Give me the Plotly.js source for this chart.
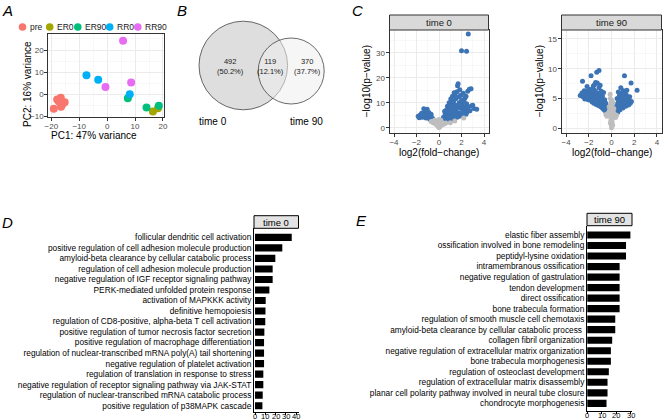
<!DOCTYPE html>
<html><head><meta charset="utf-8">
<script src="https://cdn.plot.ly/plotly-3.0.1.min.js"></script>
<style>html,body{margin:0;padding:0;background:#fff}#chart{width:668px;height:420px}</style>
</head><body><div id="chart"></div>
<script>
// ---------- Panel A: PCA ----------
const pcaGroups = ['pre', 'ER0', 'ER90', 'RR0', 'RR90'];
const pcaColors = ['#F8766D', '#A3A500', '#00BF7D', '#00B0F6', '#E76BF3'];
const prePC1 = [-19.1, -17.9, -16.6, -16.1, -15.2, -16.5, -17.3];
const prePC2 = [-6.5, -2.3, -1.6, -4.6, -3.6, -5.6, -3.2];
const er0PC1 = [16.4, 18.2];
const er0PC2 = [-7.7, -6.3];
const er90PC1 = [7.4, 14.1, 18.5];
const er90PC2 = [-1.8, -5.9, -5.2];
const rr0PC1 = [-7.4, -3.2, 8.1];
const rr0PC2 = [8.6, 6.6, 0.0];
const rr90PC1 = [5.7, -0.6, 8.6];
const rr90PC2 = [24.2, 3.3, 5.3];
const pcaX = [prePC1, er0PC1, er90PC1, rr0PC1, rr90PC1];
const pcaY = [prePC2, er0PC2, er90PC2, rr0PC2, rr90PC2];

// ---------- Panel B: Venn ----------
const vennSets = ['time 0', 'time 90'];
const vennCounts = [492, 119, 370]; // only time0, both, only time90

// ---------- Panel C: volcano ----------
const t0Sig = [
 [-1.85,4.6],[-1.7,5.0],[-1.6,4.4],[-1.5,5.3],[-1.45,4.2],[-1.35,7.6],[-1.3,5.6],[-1.2,4.9],[-1.15,3.9],[-1.05,7.4],
 [-1.0,5.1],[-0.95,4.3],[-0.9,6.1],[-0.85,3.6],[-0.8,5.0],[-0.75,3.2],[-0.7,4.4],[-0.65,2.9],[-0.6,3.8],[-0.55,2.6],
 [-0.5,3.3],[-0.45,2.3],[-0.4,2.8],[-1.55,5.8],[-1.25,6.3],[-1.75,4.0],[-1.1,5.6],[-0.35,2.0],[-1.4,4.8],[-0.7,5.4],
 [0.3,2.0],[0.35,3.0],[0.4,4.2],[0.45,2.5],[0.5,3.5],[0.55,5.5],[0.6,2.8],[0.6,4.6],[0.65,7.0],[0.7,3.3],
 [0.7,6.0],[0.75,8.6],[0.8,4.0],[0.8,5.4],[0.85,7.6],[0.9,3.2],[0.9,10.0],[0.95,6.3],[1.0,4.5],[1.0,8.4],
 [1.05,11.5],[1.1,3.8],[1.1,6.9],[1.15,9.5],[1.2,5.2],[1.2,12.6],[1.25,8.0],[1.3,4.3],[1.3,10.6],[1.35,6.2],
 [1.4,13.2],[1.4,3.9],[1.45,9.0],[1.5,7.3],[1.5,11.6],[1.55,5.0],[1.6,14.4],[1.6,8.5],[1.65,16.8],[1.7,17.6],
 [1.7,6.0],[1.75,12.4],[1.8,10.0],[1.8,4.6],[1.85,15.2],[1.9,7.8],[1.95,13.0],[2.0,5.4],[2.0,11.0],[2.05,9.2],
 [2.1,6.6],[2.15,13.8],[2.2,8.2],[2.25,5.8],[2.3,11.8],[2.35,7.2],[2.45,9.6],[2.5,6.3],[2.55,14.6],[2.6,8.4],
 [2.7,15.4],[2.75,6.8],[2.85,15.6],[2.9,8.8],[3.0,9.0],[3.1,7.7],[3.35,7.4],[2.4,12.6],[2.2,10.6],[1.0,2.8],
 [1.25,3.4],[1.6,4.2],[2.05,4.9],[2.4,5.4],[0.5,6.6],[0.95,9.2],[1.35,14.0],[1.75,9.2],[2.0,30.8],[2.45,30.6],[2.6,37.5]
];
const t0NS = [
 [0,0.1],[0.05,0.3],[-0.05,0.4],[0.1,0.6],[-0.1,0.7],[0.15,1.0],[-0.15,1.1],[0.2,1.3],[-0.2,1.4],[0.25,1.6],
 [-0.25,1.8],[0.3,1.2],[-0.3,1.5],[0.1,2.0],[-0.1,2.3],[0.2,2.6],[-0.2,2.8],[0.0,1.5],[0.05,2.9],[-0.35,2.4],
 [-0.45,1.9],[-0.5,2.1],[0.35,1.7],[0.4,1.5],[-0.6,2.3],[0.0,3.3],[0.5,1.6],[-0.7,2.5],[0.6,1.9],[1.0,2.0],
 [-0.4,3.0],[0.15,3.1],[2.2,3.9],[1.4,2.7]
];
const t90Sig = [
 [-2.75,5.5],[-2.6,5.9],[-2.55,7.9],[-2.5,5.3],[-2.4,6.3],[-2.3,5.7],[-2.25,5.1],[-2.2,6.2],[-2.1,5.5],[-2.05,4.8],
 [-2.0,6.0],[-1.95,5.2],[-1.9,6.5],[-1.85,4.7],[-1.8,8.8],[-1.8,5.6],[-1.75,6.2],[-1.7,4.4],[-1.65,5.0],[-1.6,7.1],
 [-1.6,5.8],[-1.55,4.2],[-1.5,6.4],[-1.45,4.9],[-1.4,7.7],[-1.4,5.5],[-1.35,4.0],[-1.3,9.4],[-1.3,6.0],[-1.25,7.6],
 [-1.2,4.6],[-1.2,5.2],[-1.15,3.8],[-1.1,9.7],[-1.1,6.8],[-1.05,5.6],[-1.0,4.3],[-1.0,7.2],[-0.95,3.6],[-0.9,5.0],
 [-0.9,6.2],[-0.85,4.0],[-0.8,3.4],[-0.8,5.4],[-0.75,4.6],[-0.7,3.2],[-0.7,6.0],[-0.65,3.9],[-0.6,3.0],[-0.6,4.8],
 [-0.55,3.5],[-0.5,2.8],[-0.5,4.2],[-0.45,3.1],[-0.4,2.6],[-0.35,3.6],[-0.3,2.4],[-1.5,7.3],[-2.15,7.0],[-2.35,4.9],[-1.7,6.6],
 [0.3,2.5],[0.35,3.4],[0.4,2.9],[0.45,4.0],[0.5,3.2],[0.5,5.0],[0.55,2.7],[0.6,4.4],[0.65,3.6],[0.7,5.5],
 [0.75,3.1],[0.8,4.8],[0.82,6.8],[0.85,3.8],[0.9,5.9],[0.95,4.3],[1.0,3.4],[1.0,5.2],[1.05,6.3],[1.1,4.0],
 [1.14,8.8],[1.2,4.8],[1.25,3.7],[1.3,5.6],[1.35,6.4],[1.4,4.3],[1.45,5.0],[1.5,3.9],[1.55,4.6],[1.6,5.3],
 [1.65,4.2],[1.72,7.6],[1.75,4.5],[2.25,6.4],[0.6,6.1],[1.2,6.0]
];
const t90NS = [
 [0,0.1],[0.02,0.4],[-0.03,0.7],[0.05,1.0],[-0.05,1.3],[0.08,1.6],[-0.08,1.9],[0.1,2.2],[-0.1,2.5],[0.15,2.8],
 [-0.15,3.1],[0.2,3.3],[-0.2,3.6],[0.25,2.4],[-0.25,2.7],[0.3,2.0],[-0.3,2.2],[0.35,1.8],[-0.4,2.0],[0.0,3.9],
 [-0.05,4.3],[0.05,4.6],[-0.1,5.0],[-0.12,5.7],[0.12,4.2],[-0.02,3.0],[0.0,2.0],[0.45,2.2],[-0.5,2.3],[0.1,0.5],[-0.1,0.9]
];

// ---------- Panel D / E: GO enrichment ----------
const goTerms0 = [
 'follicular dendritic cell activation',
 'positive regulation of cell adhesion molecule production',
 'amyloid-beta clearance by cellular catabolic process',
 'regulation of cell adhesion molecule production',
 'negative regulation of IGF receptor signaling pathway',
 'PERK-mediated unfolded protein response',
 'activation of MAPKKK activity',
 'definitive hemopoiesis',
 'regulation of CD8-positive, alpha-beta T cell activation',
 'positive regulation of tumor necrosis factor secretion',
 'positive regulation of macrophage differentiation',
 'regulation of nuclear-transcribed mRNA poly(A) tail shortening',
 'negative regulation of platelet activation',
 'regulation of translation in response to stress',
 'negative regulation of receptor signaling pathway via JAK-STAT',
 'regulation of nuclear-transcribed mRNA catabolic process',
 'positive regulation of p38MAPK cascade'
];
const goValues0 = [35.8, 26.6, 19.8, 17.2, 17.2, 14.0, 10.4, 10.2, 10.0, 9.1, 8.8, 8.8, 8.8, 8.1, 8.1, 7.5, 7.2];
const goTicks0 = [0, 10, 20, 30, 40];
const goTerms90 = [
 'elastic fiber assembly',
 'ossification involved in bone remodeling',
 'peptidyl-lysine oxidation',
 'intramembranous ossification',
 'negative regulation of gastrulation',
 'tendon development',
 'direct ossification',
 'bone trabecula formation',
 'regulation of smooth muscle cell chemotaxis',
 'amyloid-beta clearance by cellular catabolic process ',
 'collagen fibril organization',
 'negative regulation of extracellular matrix organization',
 'bone trabecula morphogenesis',
 'regulation of osteoclast development',
 'regulation of extracellular matrix disassembly',
 'planar cell polarity pathway involved in neural tube closure',
 'chondrocyte morphogenesis'
];
const goValues90 = [29.6, 26.6, 26.6, 22.2, 22.2, 22.2, 22.2, 22.2, 19.2, 19.2, 17.1, 16.2, 16.2, 14.8, 13.9, 13.9, 13.2];
const goTicks90 = [0, 10, 20, 30];

// ---------- helpers ----------
const W = 668, H = 420;
const PX = p => p / W;
const PY = p => 1 - p / H;
const FONT = 'Liberation Sans, Arial, sans-serif';
const MINUS = '\u2212';

const traces = [];
// A
pcaGroups.forEach((g, i) => {
  traces.push({type: 'scatter', mode: 'markers', x: pcaX[i], y: pcaY[i], name: g,
    xaxis: 'x', yaxis: 'y', showlegend: false, hoverinfo: 'skip',
    marker: {color: pcaColors[i], size: 8, line: {width: 0}}});
});
// C
const volc = [[t0Sig, t0NS, 'x3', 'y3'], [t90Sig, t90NS, 'x4', 'y4']];
volc.forEach(v => {
  traces.push({type: 'scatter', mode: 'markers', x: v[0].map(p => p[0]), y: v[0].map(p => p[1]),
    xaxis: v[2], yaxis: v[3], showlegend: false, hoverinfo: 'skip',
    marker: {color: '#3B73B4', size: 5, line: {width: 0}}});
  traces.push({type: 'scatter', mode: 'markers', x: v[1].map(p => p[0]), y: v[1].map(p => p[1]),
    xaxis: v[2], yaxis: v[3], showlegend: false, hoverinfo: 'skip',
    marker: {color: '#BEBEBE', size: 5, line: {width: 0}}});
});
// D, E
traces.push({type: 'bar', orientation: 'h', x: goValues0, y: goTerms0, xaxis: 'x5', yaxis: 'y5',
  marker: {color: '#000'}, width: 0.68, showlegend: false, hoverinfo: 'skip'});
traces.push({type: 'bar', orientation: 'h', x: goValues90, y: goTerms90, xaxis: 'x6', yaxis: 'y6',
  marker: {color: '#000'}, width: 0.68, showlegend: false, hoverinfo: 'skip'});

const bwAxis = (extra) => Object.assign({
  showgrid: true, gridcolor: '#EBEBEB', gridwidth: 1, zeroline: false,
  showline: true, mirror: true, linecolor: '#333', linewidth: 1,
  ticks: 'outside', ticklen: 3, tickcolor: '#333', tickwidth: 1, ticklabelstandoff: -1,
  tickfont: {size: 8, color: '#4D4D4D', family: FONT}, fixedrange: true, automargin: false
}, extra);

const barX = (extra) => Object.assign({
  showgrid: false, zeroline: false, showline: true, linecolor: '#000', linewidth: 1,
  ticks: 'outside', ticklen: 2, tickcolor: '#000', showticklabels: false,
  dtick: 10, tick0: 0, fixedrange: true, automargin: false
}, extra);
const barY = (extra) => Object.assign({
  type: 'category', showgrid: false, zeroline: false, showline: true, linecolor: '#000', linewidth: 1,
  ticks: '', tickfont: {size: 8.3, color: '#000', family: FONT}, fixedrange: true, automargin: false,
  autorange: false
}, extra);
const minorGrid = d => ({dtick: d, showgrid: true, gridcolor: '#F4F4F4', gridwidth: 0.6});

const layout = {
  width: W, height: H, margin: {l: 0, r: 0, t: 0, b: 0},
  paper_bgcolor: '#fff', plot_bgcolor: 'rgba(0,0,0,0)',
  font: {family: FONT, color: '#000'},
  showlegend: false, bargap: 0.3,
  xaxis: bwAxis({domain: [PX(48.3), PX(164)], range: [-21.07, 20.36], dtick: 10, tick0: 0, anchor: 'y', minor: minorGrid(5)}),
  yaxis: bwAxis({domain: [PY(116.7), PY(34.3)], range: [-10.1, 27.1], dtick: 10, tick0: 0, anchor: 'x', minor: minorGrid(5)}),
  xaxis2: {domain: [PX(180), PX(350)], range: [180, 350], visible: false, fixedrange: true, anchor: 'y2'},
  yaxis2: {domain: [PY(140), PY(0)], range: [140, 0], visible: false, fixedrange: true, anchor: 'x2'},
  xaxis3: bwAxis({domain: [PX(389.5), PX(488.5)], range: [-4.4, 4.4], dtick: 2, tick0: 0, anchor: 'y3', minor: minorGrid(1)}),
  yaxis3: bwAxis({domain: [PY(132.7), PY(30)], range: [-2, 39.1], dtick: 10, tick0: 0, anchor: 'x3', minor: minorGrid(5)}),
  xaxis4: bwAxis({domain: [PX(561.5), PX(661.5)], range: [-4.4, 4.4], dtick: 2, tick0: 0, anchor: 'y4', minor: minorGrid(1)}),
  yaxis4: bwAxis({domain: [PY(132.7), PY(30)], range: [-0.75, 16.5], dtick: 5, tick0: 0, anchor: 'x4', minor: minorGrid(2.5)}),
  xaxis5: barX({domain: [PX(254), PX(298.5)], range: [-1.0, 42.4], anchor: 'y5'}),
  yaxis5: barY({domain: [PY(411.7), PY(228.3)], range: [16.57, -0.865], categoryorder: 'array',
    categoryarray: goTerms0, anchor: 'x5'}),
  xaxis6: barX({domain: [PX(587), PX(632)], range: [-0.2, 30.7], anchor: 'y6'}),
  yaxis6: barY({domain: [PY(410.7), PY(225.7)], range: [16.7, -0.884], categoryorder: 'array',
    categoryarray: goTerms90, anchor: 'x6'}),
  shapes: [], annotations: []
};

const ann = (o) => layout.annotations.push(Object.assign({showarrow: false, xref: 'paper', yref: 'paper',
  font: {family: FONT, size: 10, color: '#000'}}, o));

// bar-axis tick labels placed tight under the axis (as in the reference)
goTicks0.forEach(t => ann({text: String(t), xref: 'x5', x: t, y: PY(416.3), xanchor: 'center', yanchor: 'middle',
  font: {family: FONT, size: 7.5, color: '#000'}}));
goTicks90.forEach(t => ann({text: String(t), xref: 'x6', x: t, y: PY(415.5), xanchor: 'center', yanchor: 'middle',
  font: {family: FONT, size: 7.5, color: '#000'}}));

// panel letters
[['A', 7.5, 10], ['B', 182, 10], ['C', 357, 10], ['D', 7.5, 222], ['E', 361.5, 220]].forEach(l =>
  ann({text: '<i>' + l[0] + '</i>', x: PX(l[1]), y: PY(l[2]), xanchor: 'center', yanchor: 'middle',
    font: {family: FONT, size: 15, color: '#000'}}));

// A legend (manual, compact like ggplot)
const legCx = [22.5, 49.7, 77.8, 109.7, 137.8];
pcaGroups.forEach((g, i) => {
  const cx = legCx[i], cy = 27, r = 3.8;
  layout.shapes.push({type: 'circle', xref: 'paper', yref: 'paper', x0: PX(cx - r), x1: PX(cx + r),
    y0: PY(cy + r), y1: PY(cy - r), fillcolor: pcaColors[i], line: {width: 0}});
  ann({text: g, x: PX(cx + 5.5), y: PY(cy), xanchor: 'left', yanchor: 'middle',
    font: {family: FONT, size: 8.5, color: '#1A1A1A'}});
});
// A titles
ann({text: 'PC1: 47% variance', x: PX(94), y: PY(135.5), xanchor: 'center', yanchor: 'middle',
  font: {family: FONT, size: 10, color: '#000'}});
ann({text: 'PC2: 16% variance', x: PX(28), y: PY(84), xanchor: 'center', yanchor: 'middle', textangle: -90,
  font: {family: FONT, size: 10, color: '#000'}});

// B Venn
const vTotal = vennCounts.reduce((a, b) => a + b, 0);
const c1 = {cx: 243.3, cy: 65.5, r: 44.3}, c2 = {cx: 291.2, cy: 71, r: 33};
layout.shapes.push({type: 'circle', xref: 'x2', yref: 'y2', x0: c1.cx - c1.r, x1: c1.cx + c1.r,
  y0: c1.cy - c1.r, y1: c1.cy + c1.r, fillcolor: '#DEDEDE', line: {color: '#444', width: 0.8}});
layout.shapes.push({type: 'circle', xref: 'x2', yref: 'y2', x0: c2.cx - c2.r, x1: c2.cx + c2.r,
  y0: c2.cy - c2.r, y1: c2.cy + c2.r, fillcolor: 'rgba(238,238,238,0.55)', line: {color: '#444', width: 0.8}});
const vennTextX = [230, 270.7, 307.3];
vennCounts.forEach((n, i) => {
  const pct = (100 * n / vTotal).toFixed(1);
  ann({text: n + '<br>(' + pct + '%)', xref: 'x2', yref: 'y2', x: vennTextX[i], y: 66, xanchor: 'center',
    yanchor: 'middle', font: {family: FONT, size: 7.5, color: '#222'}});
});
ann({text: vennSets[0], xref: 'x2', yref: 'y2', x: 213.3, y: 121.7, xanchor: 'center', yanchor: 'middle',
  font: {family: FONT, size: 10, color: '#000'}});
ann({text: vennSets[1], xref: 'x2', yref: 'y2', x: 306, y: 121.7, xanchor: 'center', yanchor: 'middle',
  font: {family: FONT, size: 10, color: '#000'}});

// C strips & titles
[[389.5, 488.5, 'time 0', 366], [561.5, 661.5, 'time 90', 539]].forEach(s => {
  layout.shapes.push({type: 'rect', xref: 'paper', yref: 'paper', x0: PX(s[0]), x1: PX(s[1]),
    y0: PY(30), y1: PY(15), fillcolor: '#D9D9D9', line: {color: '#333', width: 1}});
  ann({text: s[2], x: PX((s[0] + s[1]) / 2), y: PY(22.5), xanchor: 'center', yanchor: 'middle',
    font: {family: FONT, size: 9.5, color: '#1A1A1A'}});
  ann({text: 'log2(fold' + MINUS + 'change)', x: PX((s[0] + s[1]) / 2), y: PY(152), xanchor: 'center',
    yanchor: 'middle', font: {family: FONT, size: 10, color: '#000'}});
  ann({text: MINUS + 'log10(p' + MINUS + 'value)', x: PX(s[3]), y: PY(81.3), xanchor: 'center',
    yanchor: 'middle', textangle: -90, font: {family: FONT, size: 10, color: '#000'}});
});

// D / E strips
[[254, 298.5, 215.7, 228.3, 'time 0'], [587, 632, 213.3, 225.7, 'time 90']].forEach(s => {
  layout.shapes.push({type: 'rect', xref: 'paper', yref: 'paper', x0: PX(s[0]), x1: PX(s[1]),
    y0: PY(s[3]), y1: PY(s[2]), fillcolor: '#E3E3E3', line: {color: '#000', width: 1}});
  ann({text: s[4], x: PX((s[0] + s[1]) / 2), y: PY((s[2] + s[3]) / 2), xanchor: 'center', yanchor: 'middle',
    font: {family: FONT, size: 9.5, color: '#000'}});
});

Plotly.newPlot('chart', traces, layout, {staticPlot: true, displayModeBar: false});
</script>
</body></html>
